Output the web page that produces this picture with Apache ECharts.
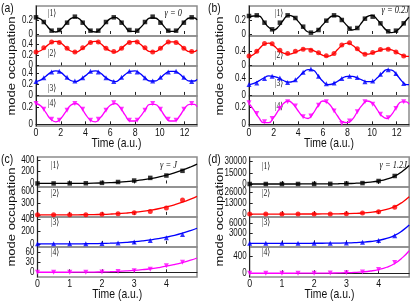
<!DOCTYPE html>
<html><head><meta charset="utf-8">
<style>html,body{margin:0;padding:0;background:#fff}#c{width:415px;height:302px}</style>
<script src="https://cdn.jsdelivr.net/npm/echarts@6/dist/echarts.min.js"></script>
</head><body><div id="c"></div>
<script>
// ---------- time axes ----------
const tCurveAB = [0,0.4,0.8,1.2,1.6,2.0,2.4,2.8,3.2,3.6,4.0,4.4,4.8,5.2,5.6,6.0,6.4,6.8,7.2,7.6,8.0,8.4,8.8,9.2,9.6,10.0,10.4,10.8,11.2,11.6,12.0,12.4,12.8,13.0];
const tMarkAB = [0,0.63,1.26,1.88,2.51,3.14,3.77,4.40,5.03,5.65,6.28,6.91,7.54,8.17,8.80,9.42,10.05,10.68,11.31,11.94,12.57];
const tCurveCD = [0,0.25,0.5,0.75,1.0,1.25,1.5,1.75,2.0,2.25,2.5,2.75,3.0,3.25,3.5,3.75,4.0,4.25,4.5,4.75,4.95];
const tMarkCD = [0,0.5,1.0,1.5,2.0,2.5,3.0,3.5,4.0,4.5];

// ---------- panel (a) gamma = 0 ----------
const a1Curve = [0.25,0.22,0.14,0.06,0.03,0.07,0.15,0.23,0.25,0.21,0.12,0.05,0.03,0.08,0.16,0.23,0.25,0.20,0.11,0.04,0.04,0.09,0.17,0.24,0.24,0.19,0.10,0.04,0.04,0.10,0.19,0.24,0.24,0.21];
const a2Curve = [0.25,0.28,0.35,0.42,0.45,0.42,0.34,0.27,0.25,0.29,0.36,0.43,0.45,0.41,0.33,0.27,0.25,0.30,0.38,0.44,0.45,0.40,0.32,0.26,0.26,0.31,0.39,0.44,0.44,0.39,0.31,0.26,0.26,0.29];
const a3Curve = [0.25,0.28,0.35,0.42,0.45,0.42,0.34,0.27,0.25,0.29,0.36,0.43,0.45,0.41,0.33,0.27,0.25,0.30,0.38,0.44,0.45,0.40,0.32,0.26,0.26,0.31,0.39,0.44,0.44,0.39,0.31,0.26,0.26,0.29];
const a4Curve = [0.25,0.22,0.14,0.06,0.03,0.07,0.15,0.23,0.25,0.21,0.12,0.05,0.03,0.08,0.16,0.23,0.25,0.20,0.11,0.04,0.04,0.09,0.17,0.24,0.24,0.19,0.10,0.04,0.04,0.10,0.19,0.24,0.24,0.21];
const a1Marks = [0.25,0.18,0.05,0.06,0.17,0.26,0.17,0.05,0.05,0.18,0.25,0.17,0.06,0.05,0.18,0.26,0.17,0.05,0.05,0.17,0.25];
const a2Marks = [0.25,0.33,0.44,0.43,0.32,0.25,0.33,0.43,0.44,0.32,0.26,0.32,0.43,0.44,0.33,0.25,0.32,0.44,0.43,0.32,0.26];
const a3Marks = [0.25,0.32,0.43,0.44,0.33,0.26,0.32,0.44,0.43,0.32,0.25,0.33,0.44,0.43,0.32,0.26,0.33,0.43,0.44,0.33,0.25];
const a4Marks = [0.25,0.18,0.06,0.05,0.17,0.25,0.18,0.05,0.06,0.17,0.26,0.18,0.05,0.05,0.17,0.25,0.18,0.06,0.05,0.18,0.25];

// ---------- panel (b) gamma = 0.2J ----------
const b1Curve = [0.25,0.27,0.27,0.19,0.10,0.06,0.11,0.21,0.28,0.26,0.19,0.10,0.03,0.02,0.06,0.14,0.22,0.27,0.27,0.20,0.12,0.06,0.09,0.18,0.26,0.28,0.22,0.13,0.05,0.02,0.05,0.12,0.21,0.25];
const b2Curve = [0.25,0.31,0.45,0.58,0.62,0.55,0.43,0.34,0.31,0.34,0.40,0.45,0.46,0.42,0.35,0.28,0.25,0.30,0.44,0.57,0.62,0.56,0.45,0.34,0.31,0.34,0.39,0.44,0.46,0.43,0.36,0.29,0.25,0.25];
const b3Curve = [0.25,0.28,0.34,0.41,0.46,0.45,0.41,0.35,0.31,0.33,0.42,0.54,0.61,0.60,0.47,0.33,0.25,0.27,0.33,0.41,0.45,0.45,0.41,0.36,0.32,0.32,0.41,0.52,0.61,0.60,0.49,0.34,0.25,0.25];
const b4Curve = [0.25,0.17,0.08,0.02,0.02,0.08,0.17,0.25,0.28,0.24,0.16,0.09,0.07,0.13,0.22,0.28,0.26,0.19,0.10,0.03,0.02,0.06,0.15,0.23,0.28,0.26,0.18,0.10,0.07,0.12,0.21,0.27,0.27,0.24];
const b1Marks = [0.27,0.28,0.17,0.07,0.17,0.28,0.24,0.11,0.02,0.06,0.20,0.28,0.21,0.08,0.09,0.23,0.26,0.16,0.04,0.05,0.16];
const b2Marks = [0.26,0.39,0.61,0.60,0.42,0.33,0.39,0.45,0.42,0.35,0.27,0.33,0.57,0.63,0.46,0.31,0.36,0.44,0.45,0.37,0.26];
const b3Marks = [0.25,0.29,0.40,0.45,0.41,0.30,0.37,0.55,0.63,0.45,0.27,0.29,0.40,0.45,0.42,0.32,0.34,0.50,0.61,0.52,0.28];
const b4Marks = [0.26,0.13,0.03,0.07,0.19,0.27,0.22,0.09,0.10,0.23,0.27,0.16,0.01,0.04,0.15,0.27,0.24,0.12,0.08,0.19,0.27];

// ---------- panel (c) gamma = J ----------
const c1Curve = [0.25,0.25,0.3,0.4,0.8,1.5,2.8,5,9,14,21,31,45,61,83,109,141,180,226,280,330];
const c2Curve = [0.25,0.25,0.3,0.5,1.0,2.2,4.3,7.5,13,20.5,31,46,65,89,120,158,205,261,328,407,480];
const c3Curve = [0.25,0.25,0.27,0.35,0.6,1.2,2.1,3.9,6.7,10.7,16.3,23.9,33.8,46.6,62.6,82.4,106.8,136,171,212,250];
const c4Curve = [0.25,0.25,0.25,0.27,0.3,0.4,0.6,0.9,1.3,1.9,2.8,4.1,5.8,8.0,10.7,14.2,18.3,23.4,29.4,36.4,43];
const c1Marks = [0.3,0.3,0.8,3,10,25,50,95,135,215];
const c2Marks = [0.3,0.5,1,4,13,30,55,90,175,385];
const c3Marks = [0.3,0.3,0.5,2,7,16,32,55,100,150];
const c4Marks = [0.3,0.3,0.3,0.4,1.2,2.8,5,9,20,30];

// ---------- panel (d) gamma = 1.2J ----------
const d1Curve = [0.25,2.7,4.4,7,11.7,19,31,50,82,133,216,351,571,930,1510,2460,4010,6530,10600,17300,24600];
const d2Curve = [0.25,2.3,3.8,6,10,16,26,43,70,114,184,300,488,794,1290,2100,3420,5580,9050,14800,21000];
const d3Curve = [0.25,0.6,1,1.6,2.6,4.3,6.9,11,18,30,48,79,128,208,338,551,898,1460,2370,3880,5500];
const d4Curve = [0.25,0.25,0.25,0.25,0.3,0.4,0.7,1.1,1.8,2.9,4.8,7.7,12.6,20.5,33,54,88,144,233,381,540];
const d1Marks = [0.3,2,11,30,80,210,560,1200,4000,10700];
const d2Marks = [0.3,2,10,26,70,180,480,1200,2900,8200];
const d3Marks = [0.3,0.5,3,7,18,50,130,300,850,2300];
const d4Marks = [0.3,0.3,0.3,0.7,2,5,13,30,90,260];

// ---------- tick labels ----------
const xTicksAB = [0,2,4,6,8,10,12];
const xTicksCD = [0,1,2,3,4];
const yTicksA = [[0,0.2],[0,0.2,0.4],[0,0.2,0.4],[0,0.2]];
const yTicksB = [[0,0.2],[0,0.4],[0,0.4],[0,0.2]];
const yTicksC = [[0,200,400],[0,300,600],[0,200,400],[0,30,60]];
const yTicksD = [[0,15000,30000],[0,13000,26000],[0,3000,6000],[0,400]];
const modeLabels = ['|1\u27E9','|2\u27E9','|3\u27E9','|4\u27E9'];
const panelLetters = ['(a)','(b)','(c)','(d)'];
const gammaLabels = ['\u03B3 = 0','\u03B3 = 0.2J','\u03B3 = J','\u03B3 = 1.2J'];

const SANS = "'Liberation Sans',Arial,Helvetica,sans-serif";
const SERIF = "'Liberation Serif','DejaVu Serif','Times New Roman',serif";
const colors = ['#000000','#ff0000','#0000ff','#ff00ff'];
const symbols = ['rect','circle','triangle','triangle'];
const symRot = [0,0,0,180];
const SEP = '#8c8c8c';
const AX = '#222';
const SQX = 0.8; // horizontal squeeze of the original figure

const panels = [
  {left:36, width:161, top:6, xMax:13, xTicks:xTicksAB, tC:tCurveAB, tM:tMarkAB,
   curves:[a1Curve,a2Curve,a3Curve,a4Curve], marks:[a1Marks,a2Marks,a3Marks,a4Marks],
   ranges:[[-0.03,0.42],[-0.01,0.55],[-0.02,0.54],[-0.02,0.34]], ticks:yTicksA,
   kets:[[52,13],[52,53],[52,88],[52,103]], gamma:[182,13]},
  {left:249, width:160, top:6, xMax:13, xTicks:xTicksAB, tC:tCurveAB, tM:tMarkAB,
   curves:[b1Curve,b2Curve,b3Curve,b4Curve], marks:[b1Marks,b2Marks,b3Marks,b4Marks],
   ranges:[[-0.03,0.42],[-0.02,0.82],[-0.025,0.7],[-0.02,0.34]], ticks:yTicksB,
   kets:[[279,13],[279,55],[279,83],[279,106]], gamma:[409,10]},
  {left:37.5, width:159.5, top:157, xMax:4.95, xTicks:xTicksCD, tC:tCurveCD, tM:tMarkCD,
   curves:[c1Curve,c2Curve,c3Curve,c4Curve], marks:[c1Marks,c2Marks,c3Marks,c4Marks],
   ranges:[[-60,450],[-55,720],[-50,430],[-14,76]], ticks:yTicksC,
   kets:[[55,165],[55,193],[55,222],[55,252]], gamma:[177,165]},
  {left:249.7, width:159.5, top:157, xMax:4.95, xTicks:xTicksCD, tC:tCurveCD, tM:tMarkCD,
   curves:[d1Curve,d2Curve,d3Curve,d4Curve], marks:[d1Marks,d2Marks,d3Marks,d4Marks],
   ranges:[[-4000,36000],[-3600,33000],[-1100,7900],[-90,630]], ticks:yTicksD,
   kets:[[266,166],[266,193],[266,222],[266,252]], gamma:[407,165]}
];
const SUBH = 30;

const grid = [], xAxis = [], yAxis = [], series = [], graphic = [];
panels.forEach((p, pi) => {
  for (let i = 0; i < 4; i++) {
    const g = pi * 4 + i;
    grid.push({left:p.left, width:p.width, top:p.top + i * SUBH, height:SUBH,
      show:true, borderColor:SEP, borderWidth:1.5, outerBoundsMode:'none'});
    xAxis.push({type:'value', gridIndex:g, min:0, max:p.xMax,
      axisLine:{show:i === 3, lineStyle:{color:AX, width:1}},
      axisTick:{show:true, inside:true, length:3, customValues:p.xTicks, lineStyle:{color:AX}},
      axisLabel:{show:false, customValues:p.xTicks},
      splitLine:{show:false}});
    yAxis.push({type:'value', gridIndex:g, min:p.ranges[i][0], max:p.ranges[i][1],
      axisLine:{show:true, lineStyle:{color:AX, width:1}},
      axisTick:{show:true, inside:true, length:3, customValues:p.ticks[i], lineStyle:{color:AX}},
      axisLabel:{show:false, customValues:p.ticks[i]},
      splitLine:{show:false}});
    series.push({type:'line', xAxisIndex:g, yAxisIndex:g, smooth:0.5, showSymbol:false,
      data:p.tC.map((t, k) => [t, p.curves[i][k]]),
      lineStyle:{color:colors[i], width:1.3}, itemStyle:{color:colors[i]}, z:2});
    series.push({type:'scatter', xAxisIndex:g, yAxisIndex:g, symbol:symbols[i], symbolRotate:symRot[i],
      symbolSize:i === 0 ? 4.5 : 5, data:p.tM.map((t, k) => [t, p.marks[i][k]]),
      itemStyle:{color:colors[i]}, z:3});
    graphic.push({type:'text', x:p.kets[i][0], y:p.kets[i][1], scaleX:SQX,
      style:{text:modeLabels[i], font:'9.5px ' + SERIF, fill:'#222', align:'center', verticalAlign:'middle'}});
  }
  graphic.push({type:'text', x:p.gamma[0], y:p.gamma[1], scaleX:SQX,
    style:{text:gammaLabels[pi], font:'italic 10.5px ' + SERIF, fill:'#111', align:'right', verticalAlign:'middle'}});
  graphic.push({type:'text', x:pi % 2 === 0 ? 1 : 208, y:p.top + 2, scaleX:SQX,
    style:{text:panelLetters[pi], font:'13px ' + SANS, fill:'#111', align:'left', verticalAlign:'middle'}});
  graphic.push({type:'text', x:pi % 2 === 0 ? 12 : 220, y:p.top + 2 * SUBH, rotation:Math.PI / 2, scaleY:SQX,
    style:{text:'mode occupation', font:'13px ' + SANS, fill:'#111', align:'center', verticalAlign:'middle'}});
  graphic.push({type:'text', x:p.left + p.width / 2, y:p.top + 4 * SUBH + 17, scaleX:SQX,
    style:{text:'Time (a.u.)', font:'13px ' + SANS, fill:'#111', align:'center', verticalAlign:'middle'}});
});

const chart = echarts.init(document.getElementById('c'), null, {renderer:'canvas'});
chart.setOption({animation:false, backgroundColor:'#fff', grid, xAxis, yAxis, series, graphic});

// tick labels placed through the axes' own scales (squeezed horizontally like the original)
const tickText = [];
panels.forEach((p, pi) => {
  for (let i = 0; i < 4; i++) {
    const g = pi * 4 + i;
    p.ticks[i].forEach(v => {
      const py = chart.convertToPixel({yAxisIndex:g}, v);
      tickText.push({type:'text', x:p.left - 3, y:py, scaleX:SQX,
        style:{text:String(v), font:'10px ' + SANS, fill:'#111', align:'right', verticalAlign:'middle'}});
    });
    if (i === 3) {
      const base = p.top + 4 * SUBH;
      p.xTicks.forEach(v => {
        const px = chart.convertToPixel({xAxisIndex:g}, v);
        tickText.push({type:'text', x:px, y:base + 6.5, scaleX:SQX,
          style:{text:String(v), font:'11px ' + SANS, fill:'#111', align:'center', verticalAlign:'middle'}});
      });
    }
  }
});
chart.setOption({graphic:graphic.concat(tickText)}, {replaceMerge:['graphic']});
</script></body></html>
